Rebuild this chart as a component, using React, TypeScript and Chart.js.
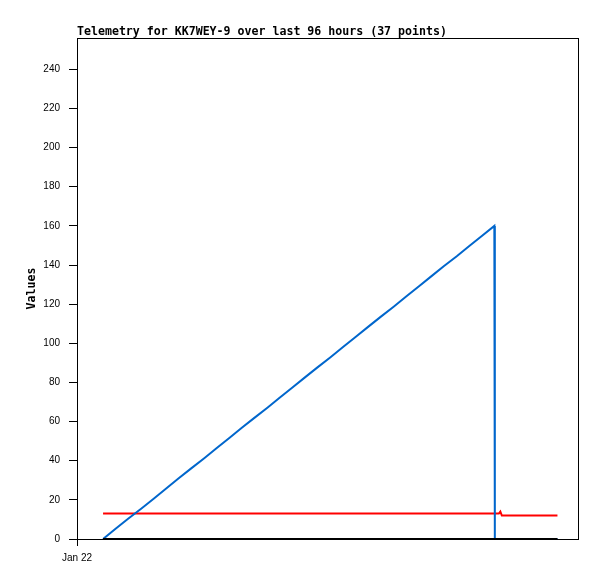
import React, { useEffect, useRef } from "react";
import { Chart, registerables } from "chart.js";

Chart.register(...registerables);

// hours since Jan 22 00:00
const times = [
  5.2, 7.7, 10.2, 12.8, 15.3, 17.8, 20.3, 22.8, 25.4, 27.9, 30.4, 32.9, 35.4, 38.0, 40.5, 43.0,
  45.5, 48.0, 50.6, 53.1, 55.6, 58.1, 60.6, 63.2, 65.7, 68.2, 70.7, 73.2, 75.8, 78.3, 80.8, 83.3,
  83.4, 84.2, 84.5, 84.8, 95.9,
];
const blueValues = [
  0, 5.2, 10.3, 15.5, 20.6, 25.8, 31, 36.1, 41.3, 46.5, 51.6, 56.8, 61.9, 67.1, 72.3, 77.4,
  82.6, 87.7, 92.9, 98.1, 103.2, 108.4, 113.5, 118.7, 123.9, 129, 134.2, 139.4, 144.5, 149.7, 154.8, 160,
  0, 0, 0, 0, 0,
];
const redValues = [
  13, 13, 13, 13, 13, 13, 13, 13, 13, 13, 13, 13, 13, 13, 13, 13,
  13, 13, 13, 13, 13, 13, 13, 13, 13, 13, 13, 13, 13, 13, 13, 13,
  13, 13, 14, 12, 12,
];
const blackValues = [
  0, 0, 0, 0, 0, 0, 0, 0, 0, 0, 0, 0, 0, 0, 0, 0,
  0, 0, 0, 0, 0, 0, 0, 0, 0, 0, 0, 0, 0, 0, 0, 0,
  0, 0, 0, 0, 0,
];
const yTicks = [0, 20, 40, 60, 80, 100, 120, 140, 160, 180, 200, 220, 240];
const xTicks = [0];
const xTickLabels = ["Jan 22"];
const titleText = "Telemetry for KK7WEY-9 over last 96 hours (37 points)";
const yTitle = "Values";

const toPts = (vals: number[]) => vals.map((v, i) => ({ x: times[i], y: v }));

export default function App() {
  const ref = useRef<HTMLCanvasElement | null>(null);
  useEffect(() => {
    if (!ref.current) return;
    const framePlugin = {
      id: "frame",
      afterDraw(chart: any) {
        const { ctx, chartArea } = chart;
        ctx.save();
        ctx.strokeStyle = "#000";
        ctx.lineWidth = 1;
        ctx.strokeRect(
          Math.round(chartArea.left) + 0.5,
          Math.round(chartArea.top) + 0.5,
          Math.round(chartArea.right - chartArea.left),
          Math.round(chartArea.bottom - chartArea.top)
        );
        ctx.fillStyle = "#000";
        ctx.font = "bold 11.6px 'DejaVu Sans Mono'";
        ctx.textAlign = "left";
        ctx.textBaseline = "alphabetic";
        ctx.fillText(titleText, chartArea.left, 35);
        ctx.translate(32, (chartArea.top + chartArea.bottom) / 2);
        ctx.rotate(-Math.PI / 2);
        ctx.textAlign = "center";
        ctx.textBaseline = "middle";
        ctx.fillText(yTitle, 0, 0);
        ctx.restore();
      },
    };
    const chart = new Chart(ref.current, {
      type: "line",
      data: {
        datasets: [
          { data: toPts(blackValues), borderColor: "#000000", borderWidth: 2, pointRadius: 0, tension: 0 },
          { data: toPts(blueValues), borderColor: "#0066cc", borderWidth: 2, pointRadius: 0, tension: 0 },
          { data: toPts(redValues), borderColor: "#ff0000", borderWidth: 2, pointRadius: 0, tension: 0 },
        ],
      },
      options: {
        responsive: false,
        animation: false,
        layout: { padding: { top: 38, right: 19, left: 0, bottom: 0 } },
        plugins: { legend: { display: false }, title: { display: false }, tooltip: { enabled: false } },
        scales: {
          x: {
            type: "linear",
            min: 0,
            max: 100,
            border: { display: false },
            grid: { drawOnChartArea: false, tickLength: 7, color: "#000", tickColor: "#000" },
            afterBuildTicks: (s: any) => {
              s.ticks = xTicks.map((v) => ({ value: v }));
            },
            afterFit: (s: any) => {
              s.height = 40;
            },
            ticks: {
              color: "#000",
              padding: 6,
              maxRotation: 0,
              font: { family: "'Liberation Sans'", size: 10 },
              callback: (v: any) => {
                const i = xTicks.indexOf(Number(v));
                return i >= 0 ? xTickLabels[i] : "";
              },
            },
          },
          y: {
            type: "linear",
            min: 0,
            max: 256,
            border: { display: false },
            grid: { drawOnChartArea: false, tickLength: 8, color: "#000", tickColor: "#000" },
            afterBuildTicks: (s: any) => {
              s.ticks = yTicks.map((v) => ({ value: v }));
            },
            afterFit: (s: any) => {
              s.width = 77;
            },
            ticks: {
              color: "#000",
              padding: 9,
              font: { family: "'Liberation Sans'", size: 10 },
            },
          },
        },
      },
      plugins: [framePlugin],
    } as any);
    return () => chart.destroy();
  }, []);
  return (
    <div style={{ position: "fixed", left: 0, top: 0, width: 597, height: 579, background: "#fff" }}>
      <canvas ref={ref} width={597} height={579} style={{ display: "block" }} />
    </div>
  );
}
